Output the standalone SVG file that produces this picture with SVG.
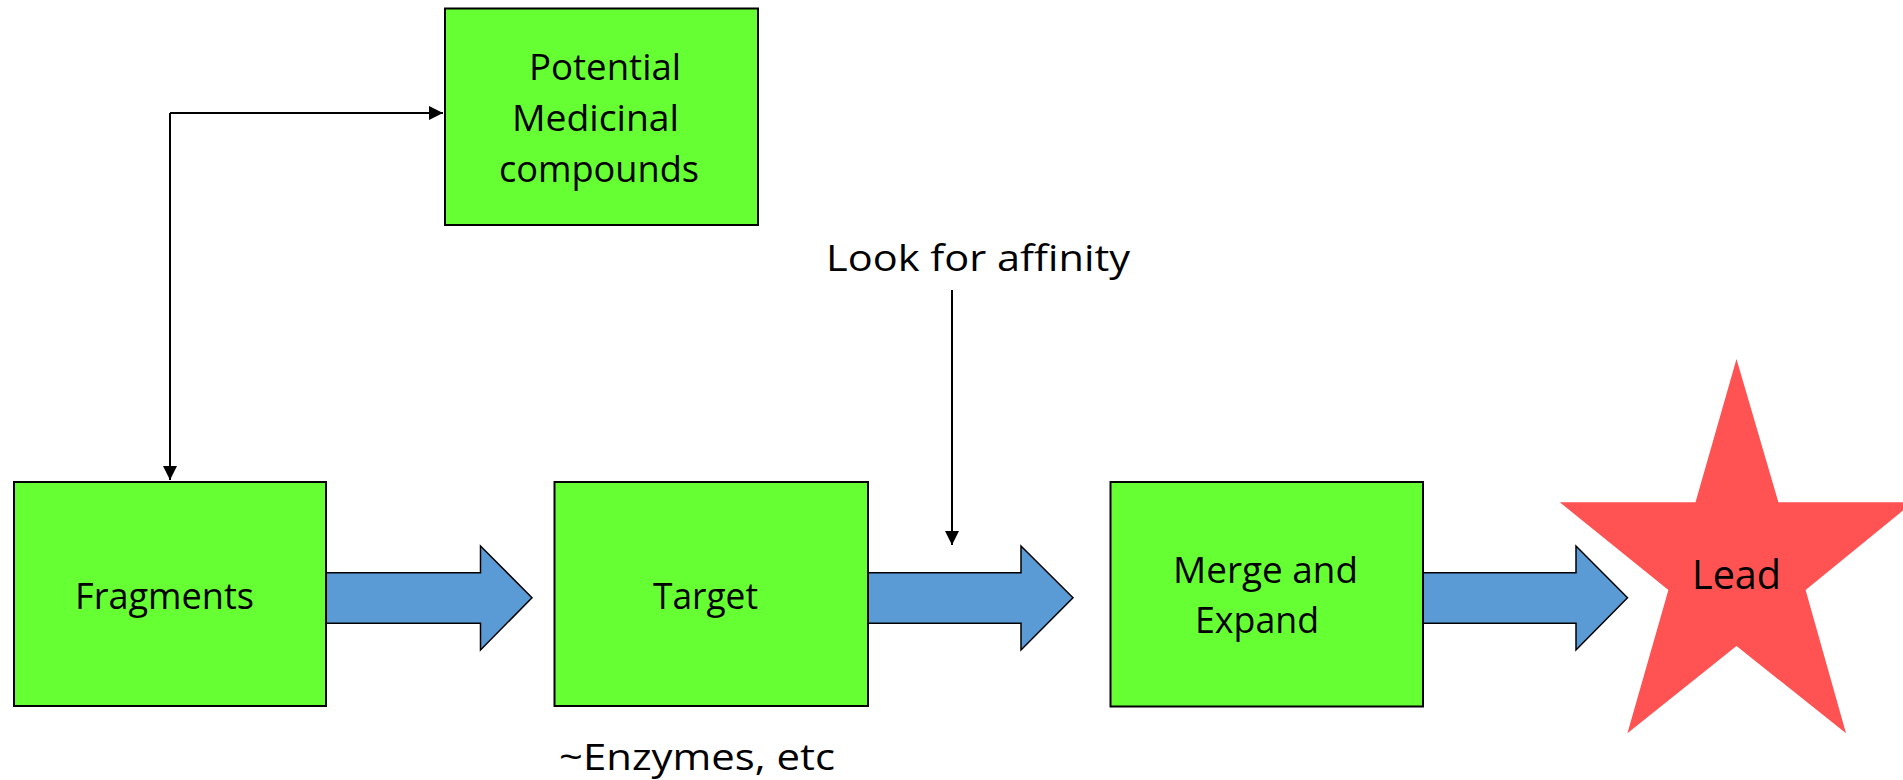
<svg xmlns="http://www.w3.org/2000/svg" width="1903" height="780" viewBox="0 0 1903 780">
  <style>
    .box { fill: #66FF33; stroke: #000; stroke-width: 2; }
    .flow { fill: #5B9BD5; stroke: #000; stroke-width: 1.5; stroke-linejoin: miter; }
    .star { fill: #FF5252; }
    .lbl { font-family: "Open Sans", "Noto Sans", sans-serif; font-size: 36px; fill: #000; }
    .big { font-size: 40px; }
    .wire { fill: none; stroke: #000; stroke-width: 2; }
  </style>
  <defs>
    <marker id="tip" viewBox="0 0 10 10" refX="10" refY="5" markerWidth="7.5" markerHeight="7" markerUnits="strokeWidth" orient="auto">
      <path d="M0,0 L10,5 L0,10 z" fill="#000"/>
    </marker>
  </defs>

  <rect width="1903" height="780" fill="#fff"/>

  <!-- thin connectors -->
  <g id="connectors">
    <path class="wire" d="M170,113 L170,480" marker-end="url(#tip)"/>
    <path class="wire" d="M170,113 L443,113" marker-end="url(#tip)"/>
    <path class="wire" d="M952,290 L952,545" marker-end="url(#tip)"/>
    <!-- block flow arrows -->
    <polygon class="flow" points="326,572.7 480.5,572.7 480.5,546 532,597.7 480.5,650 480.5,623.3 326,623.3"/>
    <polygon class="flow" points="868,572.7 1021,572.7 1021,546 1073,597.7 1021,650 1021,623.3 868,623.3"/>
    <polygon class="flow" points="1423,572.7 1576,572.7 1576,546 1627.5,597.7 1576,650 1576,623.3 1423,623.3"/>
  </g>

  <g id="potential">
    <rect class="box" x="445" y="8.5" width="313" height="216.5"/>
    <text class="lbl" x="529" y="80" textLength="152" lengthAdjust="spacingAndGlyphs">Potential</text>
    <text class="lbl" x="512" y="131" textLength="167" lengthAdjust="spacingAndGlyphs">Medicinal</text>
    <text class="lbl" x="499" y="181.7" textLength="200" lengthAdjust="spacingAndGlyphs">compounds</text>
  </g>

  <g id="fragments">
    <rect class="box" x="14" y="482" width="312" height="224"/>
    <text class="lbl" x="75" y="609" textLength="179" lengthAdjust="spacingAndGlyphs">Fragments</text>
  </g>

  <g id="target">
    <rect class="box" x="554.5" y="482" width="313.5" height="224"/>
    <text class="lbl" x="653" y="609" textLength="105" lengthAdjust="spacingAndGlyphs">Target</text>
  </g>

  <g id="merge">
    <rect class="box" x="1110.5" y="482" width="312.5" height="224.5"/>
    <text class="lbl" x="1173" y="582.7" textLength="185" lengthAdjust="spacingAndGlyphs">Merge and</text>
    <text class="lbl" x="1195" y="633" textLength="124" lengthAdjust="spacingAndGlyphs">Expand</text>
  </g>

  <g id="lead">
    <polygon class="star" points="1736.5,359 1778.4,502.3 1913.2,502.3 1805.6,590 1846,733.3 1736.5,646 1627.4,733.3 1668.4,590 1559.8,502.3 1695.5,502.3"/>
    <text class="lbl big" x="1692" y="589.3" textLength="89" lengthAdjust="spacingAndGlyphs">Lead</text>
  </g>

  <g id="affinity-note">
    <text class="lbl" x="826" y="270.7" textLength="304" lengthAdjust="spacingAndGlyphs">Look for affinity</text>
  </g>

  <g id="enzymes-note">
    <text class="lbl" x="559" y="770" textLength="276" lengthAdjust="spacingAndGlyphs">~Enzymes, etc</text>
  </g>
</svg>
